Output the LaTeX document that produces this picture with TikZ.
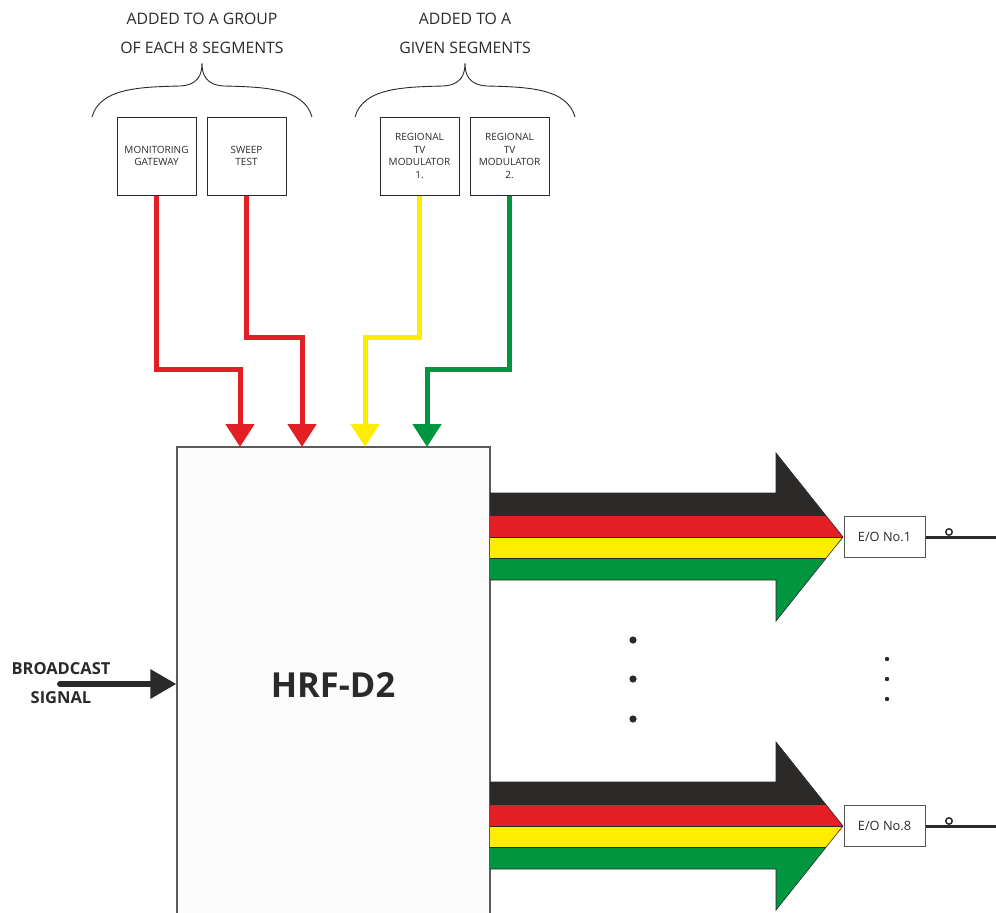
\documentclass[tikz,border=0pt]{standalone}
\usepackage{fontspec}
\setmainfont{Open Sans}
\usetikzlibrary{arrows.meta}
\definecolor{cblack}{HTML}{2B2A29}
\definecolor{cred}{HTML}{E31E24}
\definecolor{cyellow}{HTML}{FFED00}
\definecolor{cgreen}{HTML}{009640}
\definecolor{boxgray}{HTML}{5A5A5A}
\tikzset{
  smallbox/.style={draw=cblack, line width=1pt, fill=white, minimum width=79pt, minimum height=78pt, inner sep=1pt, align=center, font=\fontsize{10}{12.7}\selectfont, text=cblack},
  eobox/.style={draw=cblack!80, line width=1pt, fill=white, minimum width=81pt, minimum height=41pt, inner sep=1pt, font=\fontsize{12.8}{15}\selectfont, text=cblack},
  toplabel/.style={font=\fontsize{15.8}{18}\selectfont, text=cblack},
  feed/.style={line width=5pt, -{Triangle[length=23pt,width=28pt]}},
  brace/.style={draw=cblack, line width=0.9pt},
  stripe/.style={draw=cblack, line width=0.6pt},
  bigdot/.style={fill=cblack},
  bclabel/.style={font=\bfseries\fontsize{16.5}{18}\selectfont, text=cblack},
}
\newcommand{\bigarrow}{%
  \begin{scope}
    \clip (490,493) -- (776,493) -- (776,453) -- (843,537) -- (776,621) -- (776,580) -- (490,580) -- cycle;
    \fill[cblack] (480,440) rectangle (860,515);
    \fill[cred] (480,515) rectangle (860,537);
    \fill[cyellow] (480,537) rectangle (860,558);
    \fill[cgreen] (480,558) rectangle (860,640);
    \draw[stripe] (480,515) -- (860,515);
    \draw[stripe] (480,537) -- (860,537);
    \draw[stripe] (480,558) -- (860,558);
  \end{scope}
  \draw[stripe, line join=miter] (490,493) -- (776,493) -- (776,453) -- (843,537) -- (776,621) -- (776,580) -- (490,580);
}
\begin{document}
\begin{tikzpicture}[x=1pt,y=-1pt]
\useasboundingbox[fill=white] (0,0) rectangle (996,913);

% top labels and braces
\node[toplabel] (lab1) at (202,19) {ADDED TO A GROUP};
\node[toplabel] (lab2) at (202,48) {OF EACH 8 SEGMENTS};
\node[toplabel] (lab3) at (465,19) {ADDED TO A};
\node[toplabel] (lab4) at (465,48) {GIVEN SEGMENTS};
\draw[brace] (92,117) .. controls (100,88) and (140,87) .. (180,86) .. controls (198,85) and (202,75) .. (202,63)
  .. controls (202,75) and (206,85) .. (224,86) .. controls (264,87) and (304,88) .. (312,117);
\draw[brace] (355,117) .. controls (363,88) and (403,87) .. (443,86) .. controls (461,85) and (465,75) .. (465,63)
  .. controls (465,75) and (469,85) .. (487,86) .. controls (527,87) and (567,88) .. (575,117);

% main block
\node[draw=boxgray, line width=1.2pt, fill=black!1, minimum width=313pt, minimum height=470pt, inner sep=0pt] (hrf) at (333.5,682) {};
\node[font=\bfseries\fontsize{34.5}{38}\selectfont, text=cblack] (hrflabel) at (333,685) {HRF-D2};

% source boxes
\node[smallbox] (mon) at (156.5,156) {MONITORING\\GATEWAY};
\node[smallbox] (swp) at (246.5,156) {SWEEP\\TEST};
\node[smallbox] (rtv1) at (419.5,156) {REGIONAL\\TV\\MODULATOR\\1.};
\node[smallbox] (rtv2) at (509.5,156) {REGIONAL\\TV\\MODULATOR\\2.};

\coordinate (in1) at (240,447);
\coordinate (in2) at (302,447);
\coordinate (in3) at (365,447);
\coordinate (in4) at (427,447);
\draw[feed, cred] (mon.south) -- ++(0,174) -| (in1);
\draw[feed, cred] (swp.south) -- ++(0,142) -| (in2);
\draw[feed, cyellow] (rtv1.south) -- ++(0,142) -| (in3);
\draw[feed, cgreen] (rtv2.south) -- ++(0,174) -| (in4);

% broadcast input
\node[bclabel] (bc1) at (61,669) {BROADCAST};
\node[bclabel] (bc2) at (61,698) {SIGNAL};
\coordinate (bs) at (60,684);
\draw[cblack, line width=6pt, line cap=round, -{Triangle[length=26pt,width=28pt]}] (bs) -- (bs -| hrf.west);

% output bundles
\bigarrow
\begin{scope}[shift={(0,289)}]
\bigarrow
\end{scope}

\node[eobox] (eo1) at (884.5,537) {E/O No.1};
\node[eobox] (eo8) at (884.5,826) {E/O No.8};
\coordinate (out1) at (996,537);
\coordinate (out8) at (996,826);
\draw[cblack, line width=1.5pt, fill=white] (949,532) circle (3.2);
\draw[cblack, line width=1.5pt, fill=white] (949,821) circle (3.2);
\draw[cblack, line width=3pt] (eo1.east) -- (out1);
\draw[cblack, line width=3pt] (eo8.east) -- (out8);

% dots
\fill[bigdot] (633,640) circle (3.6);
\fill[bigdot] (633,679) circle (3.6);
\fill[bigdot] (633,719) circle (3.6);
\fill[bigdot] (887,659) circle (2.2);
\fill[bigdot] (887,679) circle (2.2);
\fill[bigdot] (887,699) circle (2.2);
\end{tikzpicture}
\end{document}
